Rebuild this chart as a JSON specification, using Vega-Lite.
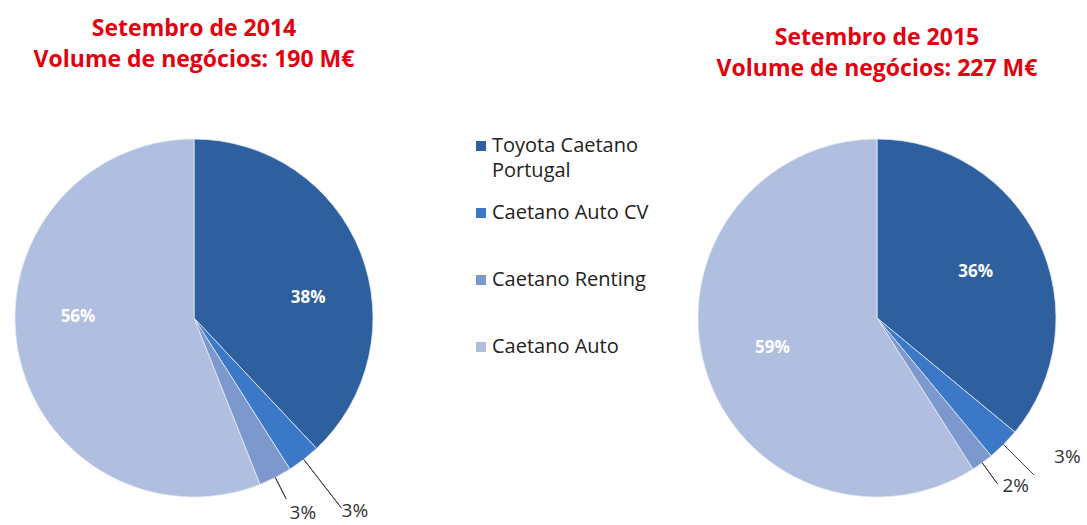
{
  "$schema": "https://vega.github.io/schema/vega-lite/v6.json",
  "background": "white",
  "padding": {"left": 13, "top": 18, "right": 0, "bottom": 0},
  "datasets": {
    "y2014": [
      {"cat": "Toyota Caetano Portugal", "value": 0.38, "idx": 1},
      {"cat": "Caetano Auto CV", "value": 0.03, "idx": 2},
      {"cat": "Caetano Renting", "value": 0.03, "idx": 3},
      {"cat": "Caetano Auto", "value": 0.56, "idx": 4}
    ],
    "y2015": [
      {"cat": "Toyota Caetano Portugal", "value": 0.36, "idx": 1},
      {"cat": "Caetano Auto CV", "value": 0.03, "idx": 2},
      {"cat": "Caetano Renting", "value": 0.02, "idx": 3},
      {"cat": "Caetano Auto", "value": 0.59, "idx": 4}
    ]
  },
  "config": {
    "view": {"stroke": null},
    "font": "Open Sans",
    "title": {"font": "Open Sans", "fontWeight": "bold", "fontSize": 23, "color": "#e3000f", "lineHeight": 31, "anchor": "middle"},
    "style": {"guide-label": {"lineHeight": 25}}
  },
  "spacing": 325,
  "bounds": "flush",
  "hconcat": [
    {
      "width": 358, "height": 358,
      "data": {"name": "y2014"},
      "transform": [
        {"stack": "value", "groupby": [], "sort": [{"field": "idx", "order": "ascending"}], "as": ["v0", "v1"]},
        {"calculate": "(datum.v0 + datum.v1) / 2", "as": "mid"}
      ],
      "title": {"text": ["Setembro de 2014", "Volume de negócios: 190 M€"], "offset": 65},
      "encoding": {
        "theta": {"field": "mid", "type": "quantitative", "scale": {"domain": [0, 1]}}
      },
      "layer": [
        {"mark": {"type": "arc", "stroke": "#e4eaf4", "strokeWidth": 0.8},
         "encoding": {
          "theta": {"field": "v0", "type": "quantitative"},
          "theta2": {"field": "v1"},
          "color": {
            "field": "cat", "type": "nominal",
            "scale": {"domain": ["Toyota Caetano Portugal", "Caetano Auto CV", "Caetano Renting", "Caetano Auto"], "range": ["#2e5f9e", "#3b79c8", "#7c98cc", "#b0bedf"]},
            "legend": {
              "orient": "none", "legendX": 456, "legendY": -3, "title": null,
              "symbolType": "square", "symbolSize": 100, "symbolStrokeWidth": 0,
              "labelFont": "Open Sans", "labelFontSize": 20, "labelColor": "#222222", "labelLimit": 300,
              "labelExpr": "datum.label == 'Toyota Caetano Portugal' ? ['Toyota Caetano', 'Portugal'] : datum.label",
              "gridAlign": "all", "rowPadding": 22, "labelOffset": 1
            }
          }
        }},
        {"transform": [{"filter": "datum.idx == 2"}],
         "mark": {"type": "arc", "innerRadius": 179, "outerRadius": 240, "fill": null, "stroke": "#444444", "strokeWidth": 1},
         "encoding": {"theta2": {"field": "mid"}}},
        {"transform": [{"filter": "datum.idx == 3"}],
         "mark": {"type": "arc", "innerRadius": 179, "outerRadius": 203, "fill": null, "stroke": "#444444", "strokeWidth": 1},
         "encoding": {"theta2": {"field": "mid"}}},
        {"transform": [{"filter": "datum.value >= 0.1"}],
         "mark": {"type": "text", "font": "Open Sans", "fontWeight": "bold", "fontSize": 17, "radius": 116, "thetaOffset": 0.2},
         "encoding": {"text": {"field": "value", "format": ".0%"}, "color": {"value": "white"}}},
        {"transform": [{"filter": "datum.idx == 2"}],
         "mark": {"type": "text", "font": "Open Sans", "fontSize": 19, "radius": 244, "align": "left", "dx": -2},
         "encoding": {"text": {"field": "value", "format": ".0%"}, "color": {"value": "#333333"}}},
        {"transform": [{"filter": "datum.idx == 3"}],
         "mark": {"type": "text", "font": "Open Sans", "fontSize": 19, "radius": 215, "align": "left", "dx": -2, "dy": 3},
         "encoding": {"text": {"field": "value", "format": ".0%"}, "color": {"value": "#333333"}}}
      ]
    },
    {
      "width": 358, "height": 358,
      "data": {"name": "y2015"},
      "transform": [
        {"stack": "value", "groupby": [], "sort": [{"field": "idx", "order": "ascending"}], "as": ["v0", "v1"]},
        {"calculate": "(datum.v0 + datum.v1) / 2", "as": "mid"}
      ],
      "title": {"text": ["Setembro de 2015", "Volume de negócios: 227 M€"], "offset": 56},
      "encoding": {
        "theta": {"field": "mid", "type": "quantitative", "scale": {"domain": [0, 1]}}
      },
      "layer": [
        {"mark": {"type": "arc", "stroke": "#e4eaf4", "strokeWidth": 0.8},
         "encoding": {
          "theta": {"field": "v0", "type": "quantitative"},
          "theta2": {"field": "v1"},
          "color": {"field": "cat", "type": "nominal"}}},
        {"transform": [{"filter": "datum.idx == 2"}],
         "mark": {"type": "arc", "innerRadius": 179, "outerRadius": 222, "fill": null, "stroke": "#444444", "strokeWidth": 1},
         "encoding": {"theta2": {"field": "mid"}}},
        {"transform": [{"filter": "datum.idx == 3"}],
         "mark": {"type": "arc", "innerRadius": 179, "outerRadius": 205, "fill": null, "stroke": "#444444", "strokeWidth": 1},
         "encoding": {"theta2": {"field": "mid"}}},
        {"transform": [{"filter": "datum.value >= 0.1"}],
         "mark": {"type": "text", "font": "Open Sans", "fontWeight": "bold", "fontSize": 17, "radius": 109},
         "encoding": {"text": {"field": "value", "format": ".0%"}, "color": {"value": "white"}}},
        {"transform": [{"filter": "datum.idx == 2"}],
         "mark": {"type": "text", "font": "Open Sans", "fontSize": 19, "radius": 225, "align": "left", "dx": 18, "dy": -20},
         "encoding": {"text": {"field": "value", "format": ".0%"}, "color": {"value": "#333333"}}},
        {"transform": [{"filter": "datum.idx == 3"}],
         "mark": {"type": "text", "font": "Open Sans", "fontSize": 19, "radius": 210, "align": "left", "dx": 2, "dy": -2},
         "encoding": {"text": {"field": "value", "format": ".0%"}, "color": {"value": "#333333"}}}
      ]
    }
  ]
}
